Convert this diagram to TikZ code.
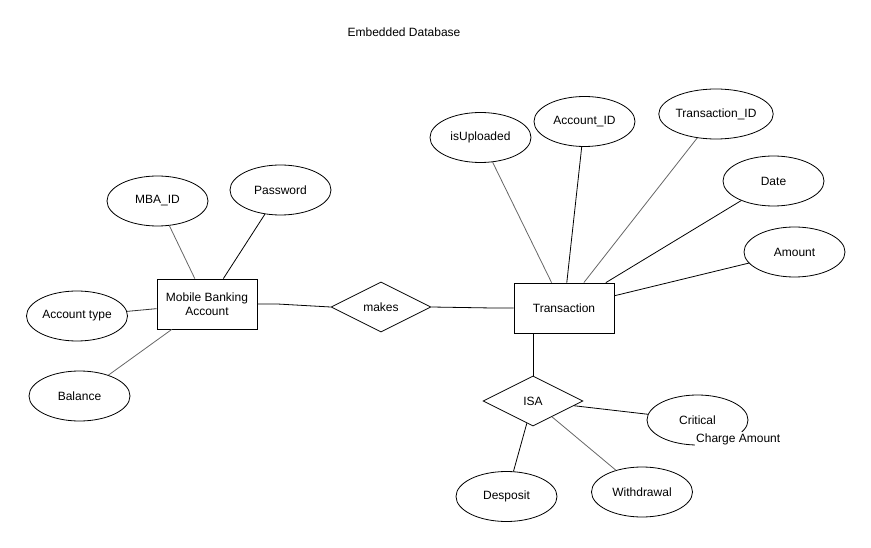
\documentclass[tikz,border=0pt]{standalone}
\usepackage{fontspec}
\setmainfont{Liberation Sans}
\usetikzlibrary{shapes.geometric,calc}
\begin{document}
\begin{tikzpicture}[x=1pt,y=-1pt,
  every node/.style={font=\fontsize{12}{14}\selectfont},
  attr/.style={draw,ellipse,line width=0.8pt,minimum width=101pt,minimum height=50pt,inner sep=0pt},
  entity/.style={draw,rectangle,line width=0.8pt,minimum width=100pt,minimum height=50pt,inner sep=0pt,align=center},
  rel/.style={draw,diamond,line width=0.8pt,minimum width=100pt,minimum height=50pt,inner sep=0pt},
  link/.style={line width=0.8pt,black},
  glink/.style={line width=0.8pt,black!60}]
\useasboundingbox (0,0) rectangle (871,548);
\node (title) at (404,32) {Embedded Database};
% entities
\node[entity] (mba) at (207,304) {Mobile Banking\\Account};
\node[entity] (tr) at (564,308) {Transaction};
% relationships
\node[rel] (makes) at (381,307) {makes};
\node[rel] (isa) at (533,401) {ISA};
% MBA attributes
\node[attr] (mbaid) at (157.5,201) {MBA\_ID};
\node[attr] (pw) at (280.5,190) {Password};
\node[attr] (acct) at (77,316) {Account type};
\node[attr] (bal) at (79.5,396) {Balance};
% Transaction attributes
\node[attr] (upl) at (480.5,137.5) {isUploaded};
\node[attr] (accid) at (584.5,121.5) {Account\_ID};
\node[attr] (trid) at (716,114) {Transaction\_ID};
\node[attr] (date) at (773.5,181) {Date};
\node[attr] (amt) at (794.5,252) {Amount};
% ISA children
\node[attr] (crit) at (697.5,420) {Critical};
\node[attr] (dep) at (506.5,496.5) {Desposit};
\node[attr] (wd) at (642,492) {Withdrawal};
% connectors
\draw[glink] (mbaid) -- (mba);
\draw[link] (pw) -- (mba);
\draw[link,black!80] (acct) -- (mba);
\draw[glink] (bal) -- (mba);
\draw[link] (mba.east) -- ++(20,0) -- (makes.west);
\draw[link] (makes.east) -- ($(tr.west)+(-21,0)$) -- (tr.west);
\draw[glink] (upl) -- (tr);
\draw[link] (accid) -- (tr);
\draw[glink] (trid) -- (tr);
\draw[link] (date) -- (tr);
\draw[link] (amt) -- (tr);
\draw[link] (isa.north |- tr.south) -- (isa.north);
\draw[link] (isa) -- (crit);
\draw[link] (isa) -- (dep);
\draw[glink] (isa) -- (wd);
\node[fill=white,inner sep=1pt,anchor=west] (charge) at (695,439) {Charge Amount};
\end{tikzpicture}
\end{document}
